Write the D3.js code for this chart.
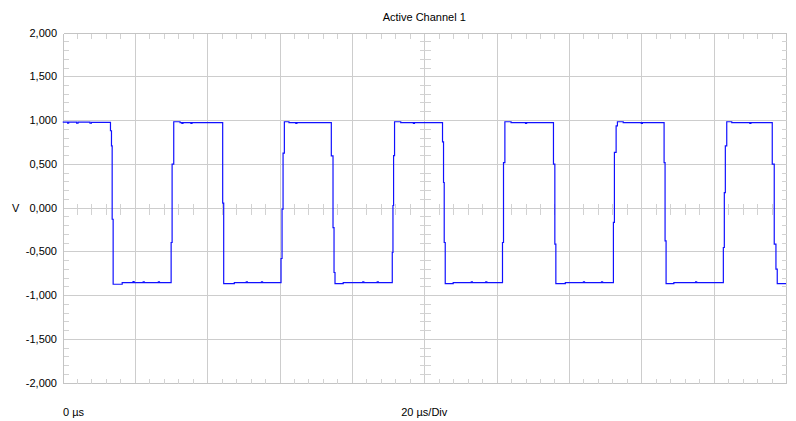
<!DOCTYPE html>
<html>
<head>
<meta charset="utf-8">
<script src="https://cdn.jsdelivr.net/npm/d3@7"></script>
<style>
  html, body { margin: 0; padding: 0; background: #ffffff; overflow: hidden; }
  svg { display: block; }
  text { font-family: "Liberation Sans", Arial, sans-serif; font-size: 11px; fill: #000; }
</style>
</head>
<body>
<script>
// ---- data ----
const title = "Active Channel 1";
const yUnit = "V";
const xStartLabel = "0 µs";
const xScaleLabel = "20 µs/Div";
const xDomainUs = [0, 200];
const yDomainV = [-2, 2];
const xMajorUs = [0, 20, 40, 60, 80, 100, 120, 140, 160, 180, 200];
const yMajorV = [2, 1.5, 1, 0.5, 0, -0.5, -1, -1.5, -2];
const yTickLabels = ["2,000", "1,500", "1,000", "0,500", "0,000", "-0,500", "-1,000", "-1,500", "-2,000"];
const xMinorStepUs = 4;
const yMinorStepV = 0.1;
// waveform samples [time µs, volts], drawn as step-after
const samples = [
  [0, 0.975], [1.4, 0.965], [1.7, 0.975], [3.9, 0.965], [4.3, 0.975], [7.6, 0.965], [8.0, 0.972],
  [13.26, 0.877], [13.54, 0.705], [13.73, -0.134], [14.0, -0.877], [16.5, -0.858], [19.5, -0.848], [19.8, -0.858], [22.3, -0.85], [22.6, -0.858], [26.5, -0.85], [26.8, -0.858],
  [30.03, -0.40], [30.30, 0.495], [30.75, 0.98], [32.5, 0.97], [33.0, 0.96], [33.3, 0.97], [35.5, 0.962], [35.8, 0.97],
  [44.28, 0.049], [44.56, -0.87], [47.5, -0.858], [50.8, -0.85], [51.1, -0.858], [55, -0.85], [55.3, -0.858],
  [60.41, -0.583], [60.69, -0.019], [60.97, 0.621], [61.33, 0.98], [62.6, 0.97], [64.5, 0.962], [64.8, 0.97],
  [74.31, 0.59], [74.78, -0.229], [75.06, -0.743], [75.33, -0.87], [77.6, -0.858], [83, -0.85], [83.3, -0.858], [87, -0.85], [87.3, -0.858],
  [91.16, -0.514], [91.35, 0.023], [91.52, 0.594], [91.79, 0.98], [93.5, 0.97], [97, 0.962], [97.3, 0.97],
  [105.05, 0.751], [105.33, 0.286], [105.52, -0.40], [105.8, -0.87], [108, -0.858], [113, -0.85], [113.3, -0.858], [117, -0.85], [117.3, -0.858],
  [121.63, -0.40], [121.91, 0.514], [122.29, 0.98], [124, 0.97], [128, 0.962], [128.3, 0.97],
  [135.72, 0.495], [136.1, -0.419], [136.38, -0.87], [139, -0.858], [144, -0.85], [144.3, -0.858], [149, -0.85], [149.3, -0.858],
  [152.29, -0.171], [152.57, 0.629], [153.04, 0.934], [153.4, 0.98], [155, 0.97], [160, 0.962], [160.3, 0.97],
  [166.3, 0.514], [166.57, -0.381], [166.85, -0.87], [169, -0.858], [175, -0.85], [175.3, -0.858],
  [182.68, -0.457], [182.95, 0.171], [183.23, 0.705], [183.62, 0.98], [185, 0.97], [190, 0.962], [190.3, 0.97],
  [196.2, 0.495], [196.75, -0.419], [197.22, -0.705], [197.58, -0.87], [200, -0.87]
];

// ---- layout ----
const W = 796, H = 421;
const pLeft = 62.5, pRight = 786, pTop = 32.5, pBottom = 382.5;
const gridColor = "#cdcdcd", tickColor = "#d2d2d2", borderColor = "#c4c4c4";

const svg = d3.select("body").append("svg").attr("width", W).attr("height", H);

const x = d3.scaleLinear().domain(xDomainUs).range([pLeft, pRight]);
const y = d3.scaleLinear().domain(yDomainV).range([pBottom, pTop]);

const px = v => Math.round(x(v)) + 0.5;
const py = v => Math.round(y(v)) + 0.5;

const g = svg.append("g").attr("shape-rendering", "crispEdges");

// major grid
g.selectAll("line.vg").data(xMajorUs).join("line")
  .attr("x1", d => px(d)).attr("x2", d => px(d))
  .attr("y1", py(yDomainV[1])).attr("y2", py(yDomainV[0]))
  .attr("stroke", d => (d === xDomainUs[0] || d === xDomainUs[1]) ? borderColor : gridColor);
g.selectAll("line.hg").data(yMajorV).join("line")
  .attr("y1", d => py(d)).attr("y2", d => py(d))
  .attr("x1", px(xDomainUs[0])).attr("x2", px(xDomainUs[1]))
  .attr("stroke", d => (d === yDomainV[0] || d === yDomainV[1]) ? borderColor : gridColor);

// minor ticks
const xMinor = d3.range(xDomainUs[0] + xMinorStepUs, xDomainUs[1] - 0.001, xMinorStepUs)
  .filter(v => Math.abs(v / 20 - Math.round(v / 20)) > 1e-6);
const yMinor = d3.range(yDomainV[0] + yMinorStepV, yDomainV[1] - 0.001, yMinorStepV)
  .map(v => Math.round(v * 10) / 10)
  .filter(v => Math.abs(v / 0.5 - Math.round(v / 0.5)) > 1e-6);
const tl = 5;
const xMid = (xDomainUs[0] + xDomainUs[1]) / 2;
const yMid = (yDomainV[0] + yDomainV[1]) / 2;

g.selectAll("line.tt").data(xMinor).join("line")
  .attr("x1", d => px(d)).attr("x2", d => px(d))
  .attr("y1", py(yDomainV[1])).attr("y2", py(yDomainV[1]) + tl).attr("stroke", tickColor);
g.selectAll("line.bt").data(xMinor).join("line")
  .attr("x1", d => px(d)).attr("x2", d => px(d))
  .attr("y1", py(yDomainV[0])).attr("y2", py(yDomainV[0]) - tl).attr("stroke", tickColor);
g.selectAll("line.ct").data(xMinor).join("line")
  .attr("x1", d => px(d)).attr("x2", d => px(d))
  .attr("y1", py(yMid) - tl).attr("y2", py(yMid) + tl + 1).attr("stroke", tickColor);
g.selectAll("line.lt").data(yMinor).join("line")
  .attr("y1", d => py(d)).attr("y2", d => py(d))
  .attr("x1", px(xDomainUs[0])).attr("x2", px(xDomainUs[0]) + tl).attr("stroke", tickColor);
g.selectAll("line.rt").data(yMinor).join("line")
  .attr("y1", d => py(d)).attr("y2", d => py(d))
  .attr("x1", px(xDomainUs[1])).attr("x2", px(xDomainUs[1]) - tl).attr("stroke", tickColor);
g.selectAll("line.cv").data(yMinor).join("line")
  .attr("y1", d => py(d)).attr("y2", d => py(d))
  .attr("x1", px(xMid) - tl).attr("x2", px(xMid) + tl + 1).attr("stroke", tickColor);

// clip
svg.append("clipPath").attr("id", "clip").append("rect")
  .attr("x", pLeft).attr("y", pTop).attr("width", pRight - pLeft).attr("height", pBottom - pTop);

// waveform
const line = d3.line().x(d => x(d[0])).y(d => y(d[1])).curve(d3.curveStepAfter);
svg.append("path").datum(samples)
  .attr("clip-path", "url(#clip)")
  .attr("d", line)
  .attr("fill", "none")
  .attr("stroke", "#1010ff")
  .attr("stroke-width", 1.2);

// labels
svg.selectAll("text.yl").data(yMajorV).join("text")
  .attr("class", "yl")
  .attr("x", 57).attr("y", d => y(d) + 4)
  .attr("text-anchor", "end")
  .text((d, i) => yTickLabels[i]);

svg.append("text").attr("x", 12).attr("y", y(0) + 4).text(yUnit);
svg.append("text").attr("x", x(xMid)).attr("y", 21).attr("text-anchor", "middle").text(title);
svg.append("text").attr("x", 63).attr("y", 416).text(xStartLabel);
svg.append("text").attr("x", x(xMid)).attr("y", 416).attr("text-anchor", "middle").text(xScaleLabel);
</script>
</body>
</html>
